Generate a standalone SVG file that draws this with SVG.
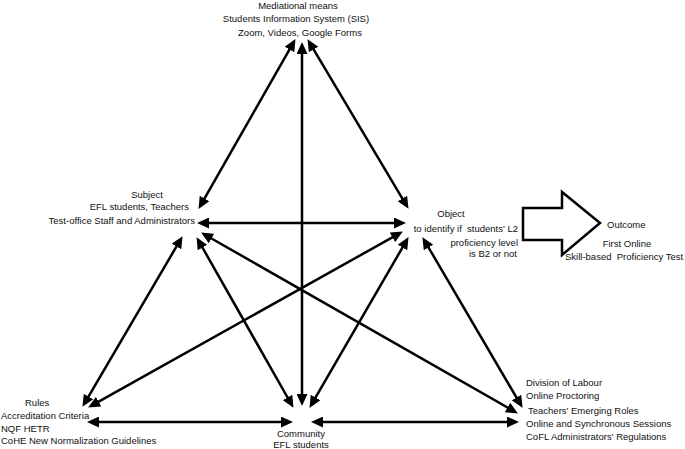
<svg xmlns="http://www.w3.org/2000/svg" width="685" height="449" viewBox="0 0 685 449">
<style>
text{font-family:"Liberation Sans",Arial,sans-serif;font-size:9.5px;fill:#111}
.m{text-anchor:middle}.e{text-anchor:end}
.c line{stroke:#000;stroke-width:2.5;marker-start:url(#ah);marker-end:url(#ah)}
</style>
<defs>
<marker id="ah" markerUnits="userSpaceOnUse" markerWidth="12" markerHeight="11" refX="3" refY="5.5" orient="auto-start-reverse">
<path d="M0,0 L12,5.5 L0,11 z" fill="#000"/>
</marker>
</defs>
<rect width="685" height="449" fill="#fff"/>
<g class="c" id="connectors">
<line x1="302" y1="51" x2="302" y2="397"/>
<line x1="291" y1="46.9" x2="203" y2="201.1"/>
<line x1="312.1" y1="46.9" x2="403.9" y2="201.1"/>
<line x1="206" y1="223" x2="397" y2="223"/>
<line x1="178" y1="243.9" x2="87" y2="399.1"/>
<line x1="201" y1="245" x2="289" y2="400"/>
<line x1="208.9" y1="237" x2="510.1" y2="409"/>
<line x1="395" y1="235.9" x2="96" y2="403.1"/>
<line x1="404" y1="244.9" x2="314" y2="400.1"/>
<line x1="427" y1="244.9" x2="518" y2="400.1"/>
<line x1="96" y1="422" x2="284" y2="422"/>
<line x1="320" y1="422" x2="510" y2="422"/>
</g>
<g id="mediational">
<text class="m" x="298" y="9">Mediational means</text>
<text class="m" x="296" y="22">Students Information System (SIS)</text>
<text class="m" x="300" y="36">Zoom, Videos, Google Forms</text>
</g>
<g id="subject">
<text class="m" x="147" y="198">Subject</text>
<text class="e" x="189" y="210">EFL students, Teachers</text>
<text class="e" x="195" y="224">Test-office Staff and Administrators</text>
</g>
<g id="object">
<text class="m" x="451" y="217">Object</text>
<text class="e" x="518" y="232">to identify if&#160; students' L2</text>
<text class="e" x="518" y="246">proficiency level</text>
<text class="e" x="517" y="257">is B2 or not</text>
</g>
<g id="outcome-arrow">
<polygon points="523,208 562,208 562,192 600,223 562,255 562,240 523,240" fill="#fff" stroke="#000" stroke-width="2.5"/>
</g>
<g id="outcome">
<text x="607" y="228">Outcome</text>
<text class="m" x="627" y="247">First Online</text>
<text x="565" y="260">Skill-based&#160; Proficiency Test</text>
</g>
<g id="rules">
<text x="25" y="406">Rules</text>
<text x="1" y="419">Accreditation Criteria</text>
<text x="1" y="432">NQF HETR</text>
<text x="1" y="444">CoHE New Normalization Guidelines</text>
</g>
<g id="community">
<text class="m" x="301" y="437">Community</text>
<text class="m" x="301" y="448">EFL students</text>
</g>
<g id="division">
<text x="526" y="386">Division of Labour</text>
<text x="526" y="399">Online Proctoring</text>
<text x="528" y="414">Teachers' Emerging Roles</text>
<text x="526" y="427">Online and Synchronous Sessions</text>
<text x="526" y="440">CoFL Administrators' Regulations</text>
</g>
</svg>
